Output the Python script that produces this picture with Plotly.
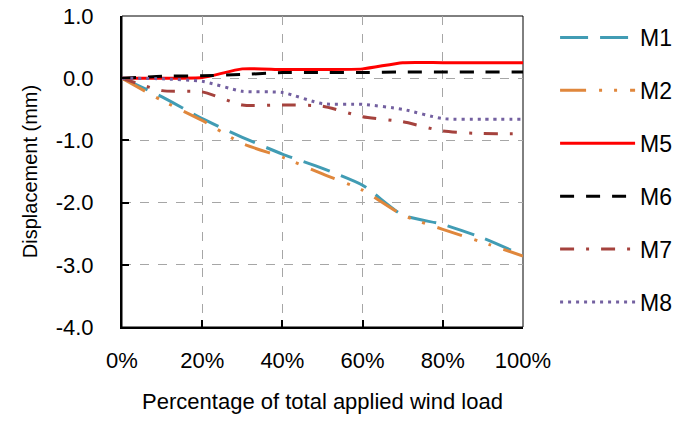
import plotly.graph_objects as go

# Percentage of total applied wind load (%)
load_pct = [0, 10, 20, 30, 40, 50, 60, 70, 80, 90, 100]

# Displacement (mm) per specimen
m1 = [0.00, -0.30, -0.65, -0.95, -1.22, -1.45, -1.72, -2.20, -2.35, -2.57, -2.85]
m2 = [0.00, -0.36, -0.68, -1.05, -1.27, -1.54, -1.80, -2.20, -2.43, -2.64, -2.86]
m5 = [0.00, 0.00, 0.01, 0.15, 0.14, 0.14, 0.15, 0.25, 0.25, 0.25, 0.25]
m6 = [0.00, 0.03, 0.04, 0.06, 0.09, 0.09, 0.09, 0.10, 0.10, 0.10, 0.10]
m7 = [0.00, -0.20, -0.22, -0.43, -0.43, -0.45, -0.62, -0.70, -0.85, -0.89, -0.89]
m8 = [0.00, -0.01, -0.05, -0.21, -0.23, -0.41, -0.42, -0.50, -0.65, -0.66, -0.66]

names = ["M1", "M2", "M5", "M6", "M7", "M8"]
series = [m1, m2, m5, m6, m7, m8]
colors = ["#419CB4", "#E0873C", "#FF0000", "#000000", "#A5423D", "#7360A0"]
dashes = [
    "28px,12px",
    "26px,13px,3px,12px,3px,13px",
    "solid",
    "14px,12px",
    "14px,12px,3px,12px",
    "3px,5px",
]

x_ticks = [0, 20, 40, 60, 80, 100]
x_labels = ["0%", "20%", "40%", "60%", "80%", "100%"]
y_ticks = [1, 0, -1, -2, -3, -4]
y_labels = ["1.0", "0.0", "-1.0", "-2.0", "-3.0", "-4.0"]

FONT = "Liberation Sans, Arial, sans-serif"

fig = go.Figure()
for i, (name, ys) in enumerate(zip(names, series)):
    fig.add_trace(go.Scatter(
        x=load_pct, y=ys, name=name, mode="lines",
        line=dict(color=colors[i], width=3, dash=dashes[i],
                  shape="spline", smoothing=0.6),
        legendgroup=name,
    ))

fig.update_layout(
    width=676, height=421,
    margin=dict(l=122, r=153, t=16, b=94, autoexpand=False),
    paper_bgcolor="white", plot_bgcolor="white",
    font=dict(family=FONT, size=22, color="black"),
    showlegend=True,
    legend=dict(
        x=1.08, xanchor="left", y=1.0, yanchor="top",
        font=dict(size=23), itemwidth=75, tracegroupgap=20, maxheight=410,
        bgcolor="rgba(0,0,0,0)", borderwidth=0,
    ),
    xaxis=dict(
        range=[0, 100], tickmode="array", tickvals=x_ticks, ticktext=x_labels,
        showline=True, linecolor="black", linewidth=2,
        ticks="inside", ticklen=7, tickwidth=2, tickcolor="black",
        showgrid=True, gridcolor="#A6A6A6", gridwidth=1, griddash="dash",
        zeroline=False, ticklabelstandoff=13,
        title=dict(text="Percentage of total applied wind load",
                   font=dict(size=22), standoff=21),
    ),
    yaxis=dict(
        range=[-4, 1], tickmode="array", tickvals=y_ticks, ticktext=y_labels,
        showline=True, linecolor="black", linewidth=2,
        ticks="inside", ticklen=7, tickwidth=2, tickcolor="black",
        showgrid=True, gridcolor="#A6A6A6", gridwidth=1, griddash="dash",
        zeroline=False, ticklabelstandoff=22,
        title=dict(text="Displacement (mm)", font=dict(size=20), standoff=13),
    ),
    shapes=[dict(type="rect", xref="paper", yref="paper", x0=0, x1=1, y0=0, y1=1,
                 line=dict(color="black", width=1), layer="below")],
)

fig.write_html("out.html")
